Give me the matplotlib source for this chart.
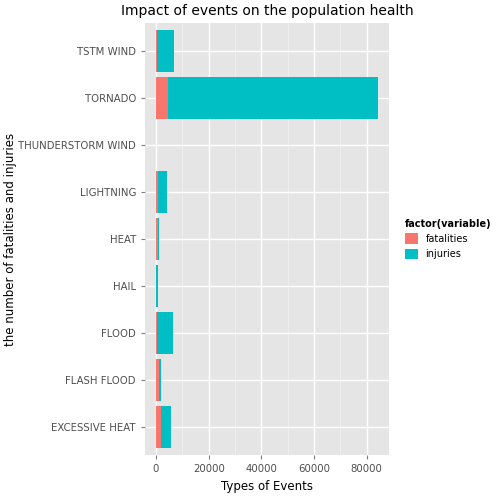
import matplotlib
matplotlib.use("Agg")
import matplotlib.pyplot as plt
import numpy as np

events = ["EXCESSIVE HEAT", "FLASH FLOOD", "FLOOD", "HAIL", "HEAT",
          "LIGHTNING", "THUNDERSTORM WIND", "TORNADO", "TSTM WIND"]
fatalities = [1700, 950, 450, 50, 900, 800, 0, 4600, 500]
injuries = [4100, 850, 6050, 750, 300, 3400, 0, 79600, 6400]

fig = plt.figure(figsize=(5.04, 5.04), dpi=100)
ax = fig.add_axes([145 / 504, 49 / 504, 244 / 504, 432 / 504])
ax.set_facecolor("#E5E5E5")

y = np.arange(len(events))
ax.barh(y, fatalities, height=0.9, color="#F8766D", label="fatalities")
ax.barh(y, injuries, left=fatalities, height=0.9, color="#00BFC4", label="injuries")

ax.set_xlim(-4200, 88500)
ax.set_ylim(-0.6, len(events) - 0.4)
ax.set_xticks([0, 20000, 40000, 60000, 80000])
ax.set_xticks([10000, 30000, 50000, 70000], minor=True)
ax.set_yticks(y)
ax.set_yticklabels(events)
ax.grid(True, which="major", color="white", linewidth=1)
ax.grid(True, which="minor", axis="x", color="#F2F2F2", linewidth=0.5)
ax.set_axisbelow(True)
for s in ax.spines.values():
    s.set_visible(False)
ax.tick_params(colors="#7F7F7F", labelsize=7.3, length=3)
ax.tick_params(which="minor", length=0)
for lbl in ax.get_xticklabels() + ax.get_yticklabels():
    lbl.set_color("#4D4D4D")

ax.set_xlabel("Types of Events", fontsize=8.5)
ax.set_ylabel("the number of fatalities and injuries", fontsize=8.5)
ax.yaxis.set_label_coords(-128 / 244, 0.5)
ax.set_title("Impact of events on the population health", fontsize=10)

leg = ax.legend(loc="center left", bbox_to_anchor=(1.03, 0.5), frameon=False,
                title="factor(variable)", fontsize=7, handlelength=1.3,
                handleheight=1.3)
leg.get_title().set_fontsize(7)
leg.get_title().set_fontweight("bold")
leg._legend_box.align = "left"

fig.savefig("out.png", dpi=100)
